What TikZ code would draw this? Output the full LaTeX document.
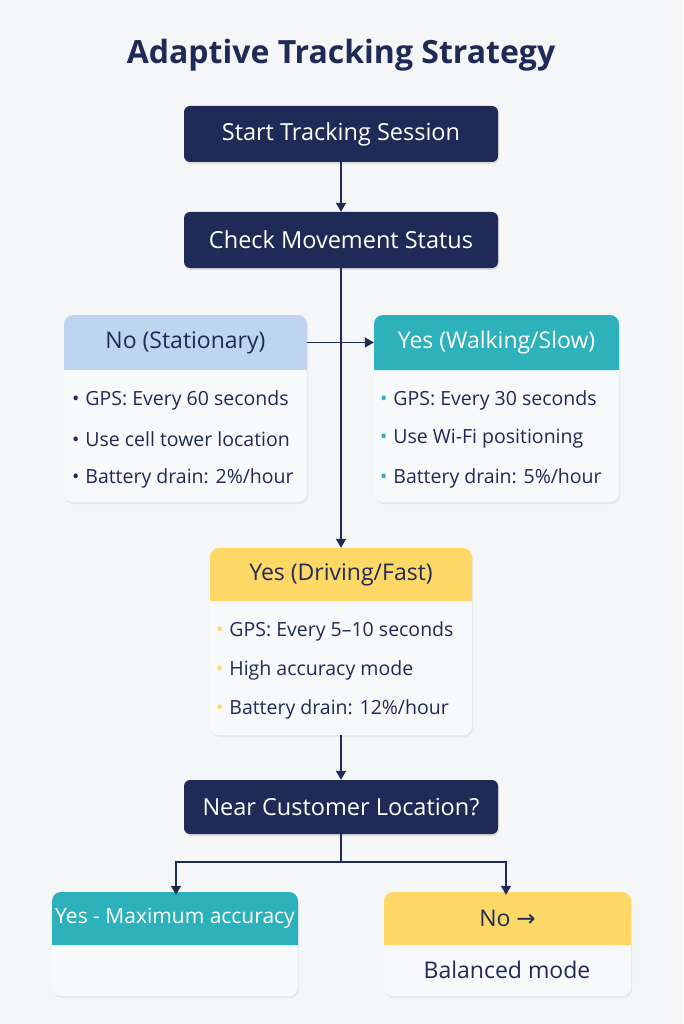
\documentclass[tikz,border=0pt]{standalone}
\usepackage{fontspec}
\setmainfont{Open Sans}
\newfontfamily\symfont{DejaVu Sans}
\usetikzlibrary{positioning,shadows,arrows.meta}
\definecolor{navy}{HTML}{1F2A56}
\definecolor{bgc}{HTML}{F5F6F8}
\definecolor{paleblue}{HTML}{BDD5EE}
\definecolor{teal}{HTML}{2DB1BA}
\definecolor{sun}{HTML}{FDD866}
\definecolor{cardc}{HTML}{F8F9FB}
\tikzset{
  stepbox/.style={draw=none,fill=navy,rounded corners=6pt,text=white,font=\fontsize{23.5}{26}\selectfont,
    minimum width=314pt,minimum height=56pt,drop shadow={opacity=0.2,shadow xshift=1pt,shadow yshift=-2pt}},
  card/.style={fill=cardc,rounded corners=9pt,drop shadow={opacity=0.12,shadow xshift=1pt,shadow yshift=-2pt}},
  item/.style={anchor=west,text=navy,font=\fontsize{19.5}{22}\selectfont,inner sep=0pt},
  headtxt/.style={font=\fontsize{23}{26}\selectfont,inner sep=0pt},
  conn/.style={draw=navy,line width=1.3pt},
  arr/.style={conn,-{Triangle[length=9pt,width=10pt]}}
}
% card: name, left, top, right, bottom, header bottom, colour
\newcommand{\card}[7]{
  \node[card,minimum width=#4pt-#2pt,minimum height=#5pt-#3pt] (#1) at ({(#2+#4)/2},{(#3+#5)/2}) {};
  \fill[#7] (#2,#6) [rounded corners=9pt]-- (#2,#3) -- (#4,#3) [sharp corners]-- (#4,#6) -- cycle;
  \coordinate (#1-head) at ({(#2+#4)/2},{(#3+#6)/2});
}
\newcommand{\bul}[4]{\node[item] at (#1,#2) {\textcolor{#3}{\textbullet}\hspace{0.3em}#4};}
\begin{document}
\begin{tikzpicture}[x=1pt,y=-1pt]
  \fill[bgc] (0,0) rectangle (683,1024);
  \useasboundingbox (0,0) rectangle (683,1024);

  \node[text=navy,font=\fontsize{32}{36}\selectfont\bfseries] (title) at (341,55) {Adaptive Tracking Strategy};

  \node[stepbox] (start) at (341,134) {Start Tracking Session};
  \node[stepbox] (check) at (341,240) {Check Movement Status};

  % movement cards
  \card{still}{64}{315}{307}{502}{370}{paleblue}
  \node[headtxt,text=navy] (stillhead) at (still-head) {No (Stationary)};
  \bul{72}{400}{navy}{GPS: Every 60 seconds}
  \bul{72}{439}{navy}{Use cell tower location}
  \bul{72}{478}{navy}{Battery drain: 2\%/hour}

  \card{walk}{374}{315}{619}{502}{370}{teal}
  \node[headtxt,text=white] (walkhead) at (walk-head) {Yes (Walking/Slow)};
  \bul{380}{400}{teal}{GPS: Every 30 seconds}
  \bul{380}{439}{teal}{Use Wi-Fi positioning}
  \bul{380}{478}{teal}{Battery drain: 5\%/hour}

  \card{drive}{210}{548}{472}{735}{601}{sun}
  \node[headtxt,text=navy] (drivehead) at (drive-head) {Yes (Driving/Fast)};
  \bul{216}{631}{sun}{GPS: Every 5--10 seconds}
  \bul{216}{670}{sun}{High accuracy mode}
  \bul{216}{709}{sun}{Battery drain: 12\%/hour}

  \node[stepbox,minimum height=54pt] (near) at (341,807) {Near Customer Location?};

  % outcome cards
  \card{maxacc}{52}{892}{298}{996}{945}{teal}
  \node[headtxt,text=white,font=\fontsize{21}{24}\selectfont] (maxhead) at (maxacc-head) {Yes - Maximum accuracy};
  \card{balanced}{384}{892}{631}{996}{945}{sun}
  \node[headtxt,text=navy] (balhead) at (balanced-head) {No {\symfont →}};
  \node[headtxt,text=navy] (baltxt) at (507,970) {Balanced mode};

  % connectors
  \draw[arr] (start) -- (check);
  \draw[arr] (check) -- (drive);
  \draw[arr] (still.east |- stillhead) -- (walk.west |- walkhead);
  \draw[arr] (drive) -- (near);
  \coordinate (split) at (341,862);
  \draw[conn] (near) -- (split);
  \draw[arr] (split) -| ([yshift=-3pt]maxacc.north -| 176,0);
  \draw[arr] (split) -| ([yshift=-3pt]balanced.north -| 506,0);
\end{tikzpicture}
\end{document}
